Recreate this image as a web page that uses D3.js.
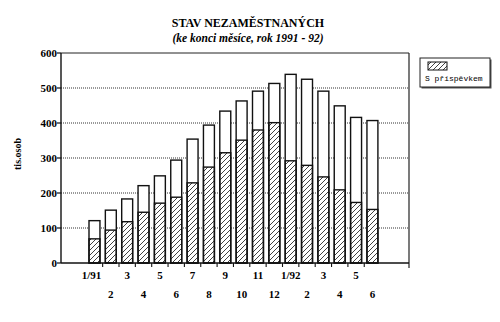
<!DOCTYPE html>
<html>
<head>
<meta charset="utf-8">
<script src="https://cdn.jsdelivr.net/npm/d3@7"></script>
<style>
  body { margin: 0; background: #fff; }
  svg { display: block; }
  .title { font-family: "Liberation Serif", "DejaVu Serif", serif; font-weight: bold; }
  .tick-label { font-family: "Liberation Serif", serif; font-weight: bold; font-size: 11px; }
  .legend-text { font-family: "Liberation Mono", "DejaVu Sans Mono", monospace; font-size: 8px; }
</style>
</head>
<body>
<div id="chart"></div>
<script>
// months shown, 1/91 .. 6/92
const months = ["1/91", "2", "3", "4", "5", "6", "7", "8", "9", "10", "11", "12",
                "1/92", "2", "3", "4", "5", "6"];
// total unemployed (tis. osob)
const totals = [121, 151, 183, 221, 249, 294, 354, 394, 434, 463, 491, 513,
                539, 525, 491, 449, 416, 407];
// of which with benefit ("S příspěvkem")
const withBenefit = [69, 94, 118, 145, 171, 188, 229, 274, 315, 351, 380, 401,
                     292, 279, 246, 209, 173, 153];
const yTicks = [0, 100, 200, 300, 400, 500, 600];

const width = 500, height = 322;
const plotLeft = 61, plotRight = 409, plotTop = 53, plotBottom = 263;

const svg = d3.select("#chart").append("svg")
    .attr("width", width)
    .attr("height", height);

// hatch pattern for the benefit part
svg.append("defs").append("pattern")
    .attr("id", "hatch")
    .attr("patternUnits", "userSpaceOnUse")
    .attr("width", 5)
    .attr("height", 5)
    .append("path")
    .attr("d", "M0,5 L5,0 M-1,1 L1,-1 M4,6 L6,4")
    .attr("stroke", "#111")
    .attr("stroke-width", 0.8);

const y = d3.scaleLinear().domain([0, 600]).range([plotBottom, plotTop]);

const idx = months.map((m, i) => i);
const x = d3.scaleBand()
    .domain(idx)
    .range([86.3, 380.6])
    .paddingInner(0.33)
    .paddingOuter(0.165);

// titles
svg.append("text").attr("class", "title")
    .attr("x", 248).attr("y", 27)
    .attr("text-anchor", "middle")
    .attr("font-size", 12)
    .text("STAV NEZAMĚSTNANÝCH");
svg.append("text").attr("class", "title")
    .attr("x", 248).attr("y", 42)
    .attr("text-anchor", "middle")
    .attr("font-size", 11.5)
    .attr("font-style", "italic")
    .text("(ke konci měsíce, rok 1991 - 92)");

// gridlines (dotted)
svg.append("g")
    .selectAll("line")
    .data(yTicks.filter(d => d > 0 && d < 600))
    .join("line")
    .attr("x1", plotLeft).attr("x2", plotRight)
    .attr("y1", d => y(d)).attr("y2", d => y(d))
    .attr("stroke", "#333")
    .attr("stroke-width", 1)
    .attr("stroke-dasharray", "1,1");

// frame: top and right
svg.append("line")
    .attr("x1", plotLeft).attr("x2", plotRight)
    .attr("y1", y(600)).attr("y2", y(600))
    .attr("stroke", "#222").attr("stroke-width", 1);
svg.append("line")
    .attr("x1", plotRight).attr("x2", plotRight)
    .attr("y1", y(600)).attr("y2", plotBottom + 5)
    .attr("stroke", "#222").attr("stroke-width", 1.2);

// bars
const bars = svg.append("g");
bars.selectAll("rect.total")
    .data(idx)
    .join("rect")
    .attr("class", "total")
    .attr("x", i => x(i))
    .attr("width", x.bandwidth())
    .attr("y", i => y(totals[i]))
    .attr("height", i => y(0) - y(totals[i]))
    .attr("fill", "#fff")
    .attr("stroke", "#111")
    .attr("stroke-width", 1.4);
bars.selectAll("rect.benefit")
    .data(idx)
    .join("rect")
    .attr("class", "benefit")
    .attr("x", i => x(i))
    .attr("width", x.bandwidth())
    .attr("y", i => y(withBenefit[i]))
    .attr("height", i => y(0) - y(withBenefit[i]))
    .attr("fill", "url(#hatch)")
    .attr("stroke", "#111")
    .attr("stroke-width", 1.4);

// y axis
const yAxis = svg.append("g");
yAxis.append("line")
    .attr("x1", plotLeft).attr("x2", plotLeft)
    .attr("y1", y(600)).attr("y2", plotBottom)
    .attr("stroke", "#111").attr("stroke-width", 1.4);
yAxis.selectAll("line.tick")
    .data(yTicks)
    .join("line")
    .attr("class", "tick")
    .attr("x1", plotLeft - 4).attr("x2", plotLeft)
    .attr("y1", d => y(d)).attr("y2", d => y(d))
    .attr("stroke", "#111").attr("stroke-width", 1.2);
yAxis.selectAll("text")
    .data(yTicks)
    .join("text")
    .attr("class", "tick-label")
    .attr("x", plotLeft - 4)
    .attr("y", d => y(d))
    .attr("dy", "0.35em")
    .attr("text-anchor", "end")
    .text(d => d);

svg.append("text").attr("class", "title")
    .attr("transform", "translate(21,154) rotate(-90)")
    .attr("text-anchor", "middle")
    .attr("font-size", 10)
    .text("tis.osob");

// x axis
const xAxis = svg.append("g");
xAxis.append("line")
    .attr("x1", plotLeft).attr("x2", plotRight)
    .attr("y1", plotBottom).attr("y2", plotBottom)
    .attr("stroke", "#111").attr("stroke-width", 1.6);
xAxis.selectAll("line.tick")
    .data(idx.slice(1))
    .join("line")
    .attr("class", "tick")
    .attr("x1", i => x(i) - x.step() * x.paddingInner() / 2)
    .attr("x2", i => x(i) - x.step() * x.paddingInner() / 2)
    .attr("y1", plotBottom).attr("y2", plotBottom + 4)
    .attr("stroke", "#111").attr("stroke-width", 1.1);
xAxis.selectAll("text")
    .data(idx)
    .join("text")
    .attr("class", "tick-label")
    .attr("x", i => x(i) + x.bandwidth() / 2 - (i === 0 ? 3 : 0))
    .attr("y", i => i % 2 === 0 ? 279 : 298)
    .attr("text-anchor", "middle")
    .text(i => months[i]);

// legend
const lg = svg.append("g").attr("transform", "translate(420,58)");
lg.append("rect")
    .attr("x", 1.5).attr("y", 1.5)
    .attr("width", 70).attr("height", 29)
    .attr("fill", "#555");
lg.append("rect")
    .attr("width", 70).attr("height", 29)
    .attr("fill", "#fff")
    .attr("stroke", "#222").attr("stroke-width", 1);
lg.append("rect")
    .attr("x", 8).attr("y", 4)
    .attr("width", 19).attr("height", 8)
    .attr("fill", "url(#hatch)")
    .attr("stroke", "#111").attr("stroke-width", 1);
lg.append("text")
    .attr("class", "legend-text")
    .attr("x", 5).attr("y", 23)
    .text("S příspěvkem");
</script>
</body>
</html>
